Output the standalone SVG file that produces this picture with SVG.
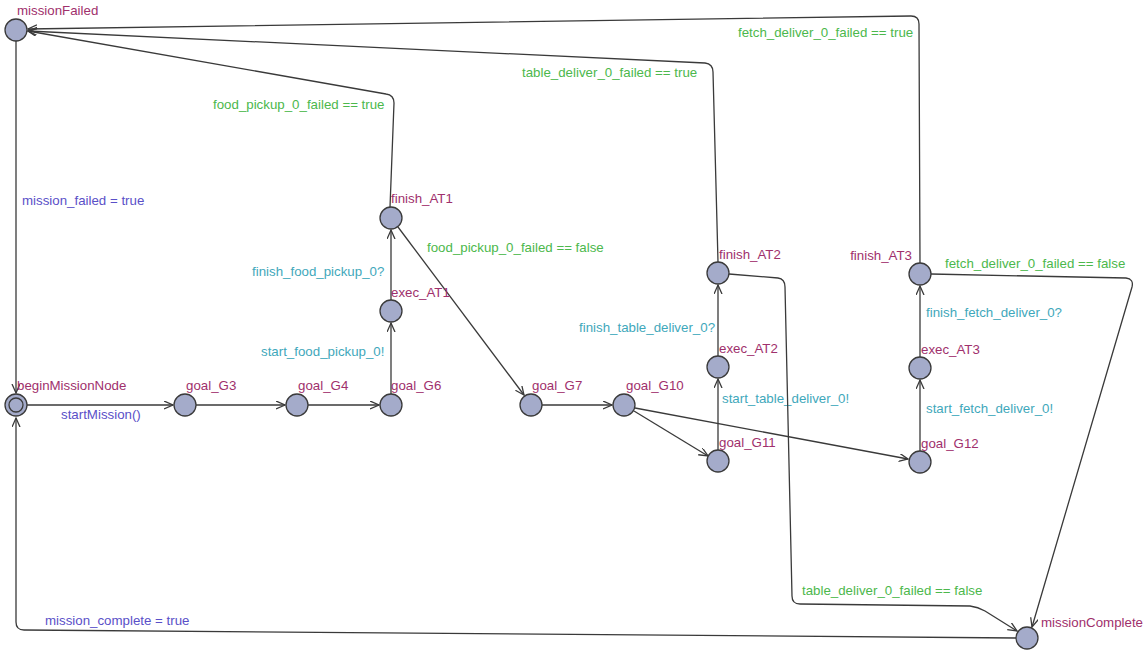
<svg xmlns="http://www.w3.org/2000/svg" width="1146" height="655" viewBox="0 0 1146 655">
<style>
.loc{fill:#a4abca;stroke:#3a3a3a;stroke-width:1.3}
.name{font-family:"Liberation Sans",Arial,sans-serif;font-size:13.3px;fill:#a0306c}
.e{fill:none;stroke:#3a3a3a;stroke-width:1.3;marker-end:url(#arr)}
.lbl{font-family:"Liberation Sans",Arial,sans-serif;font-size:13.3px}
.guard{fill:#4cb84c}
.sync{fill:#3fa8bb}
.upd{fill:#5a50c8}
</style>
<defs>
<marker id="arr" markerUnits="userSpaceOnUse" markerWidth="12" markerHeight="10" refX="9" refY="4" orient="auto">
<path d="M0,0 L9,4 L0,8" fill="none" stroke="#3a3a3a" stroke-width="1.3"/>
</marker>
</defs>
<rect width="1146" height="655" fill="#ffffff"/>
<g id="connectors">
<g id="e-failed-begin"><path class="e" d="M16,41 L16,393"/><text class="lbl upd" x="22" y="205">mission_failed = true</text></g>
<g id="e-begin-g3"><path class="e" d="M27,405 L173,405"/><text class="lbl upd" x="61" y="419">startMission()</text></g>
<g id="e-g3-g4"><path class="e" d="M196,405 L285,405"/></g>
<g id="e-g4-g6"><path class="e" d="M308,405 L379,405"/></g>
<g id="e-g6-exec1"><path class="e" d="M391,394 L391,323"/><text class="lbl sync" x="261" y="356">start_food_pickup_0!</text></g>
<g id="e-exec1-fin1"><path class="e" d="M391,300 L391,230"/><text class="lbl sync" x="252" y="276">finish_food_pickup_0?</text></g>
<g id="e-fin1-failed"><path class="e" d="M390,207 L394,103 Q394,95 386,94 L28,31"/><text class="lbl guard" x="213" y="109">food_pickup_0_failed == true</text></g>
<g id="e-fin1-g7"><path class="e" d="M398,227 L524,395"/><text class="lbl guard" x="427" y="252">food_pickup_0_failed == false</text></g>
<g id="e-g7-g10"><path class="e" d="M542,405 L612,405"/></g>
<g id="e-g10-g11"><path class="e" d="M634,411 L708,456"/></g>
<g id="e-g10-g12"><path class="e" d="M635,408 L908,459"/></g>
<g id="e-g11-exec2"><path class="e" d="M718,450 L718,379"/><text class="lbl sync" x="722" y="403">start_table_deliver_0!</text></g>
<g id="e-exec2-fin2"><path class="e" d="M718,356 L718,285"/><text class="lbl sync" x="579" y="332">finish_table_deliver_0?</text></g>
<g id="e-fin2-failed"><path class="e" d="M718,262 L713,72 Q713,64 705,63 L28,31"/><text class="lbl guard" x="522" y="77">table_deliver_0_failed == true</text></g>
<g id="e-fin2-complete"><path class="e" d="M729,274 L778,278 Q785,279 785,287 L792,596 Q792,604 800,604 L970,606 Q978,607 985,611 L1017,631"/><text class="lbl guard" x="802" y="595">table_deliver_0_failed == false</text></g>
<g id="e-g12-exec3"><path class="e" d="M920,451 L920,380"/><text class="lbl sync" x="926" y="413">start_fetch_deliver_0!</text></g>
<g id="e-exec3-fin3"><path class="e" d="M920,357 L920,286"/><text class="lbl sync" x="926" y="317">finish_fetch_deliver_0?</text></g>
<g id="e-fin3-failed"><path class="e" d="M920,263 L919,24 Q919,16 911,16 L28,29"/><text class="lbl guard" x="738" y="37">fetch_deliver_0_failed == true</text></g>
<g id="e-fin3-complete"><path class="e" d="M931,274 L1126,278 Q1134,279 1132,287 L1032,627"/><text class="lbl guard" x="945" y="268">fetch_deliver_0_failed == false</text></g>
<g id="e-complete-begin"><path class="e" d="M1016,638 L24,630 Q16,630 16,622 L16,418"/><text class="lbl upd" x="45" y="625">mission_complete = true</text></g>
</g>
<g id="missionFailed"><circle class="loc" cx="16" cy="30" r="11"/><text class="name" x="17" y="15">missionFailed</text></g>
<g id="beginMissionNode"><circle class="loc" cx="16" cy="405" r="11"/><circle class="loc" cx="16" cy="405" r="7"/><text class="name" x="17" y="390">beginMissionNode</text></g>
<g id="goal_G3"><circle class="loc" cx="185" cy="405" r="11"/><text class="name" x="186" y="390">goal_G3</text></g>
<g id="goal_G4"><circle class="loc" cx="297" cy="405" r="11"/><text class="name" x="298" y="390">goal_G4</text></g>
<g id="goal_G6"><circle class="loc" cx="391" cy="405" r="11"/><text class="name" x="391" y="390">goal_G6</text></g>
<g id="exec_AT1"><circle class="loc" cx="391" cy="311" r="11"/><text class="name" x="391" y="297">exec_AT1</text></g>
<g id="finish_AT1"><circle class="loc" cx="391" cy="218" r="11"/><text class="name" x="391" y="203">finish_AT1</text></g>
<g id="goal_G7"><circle class="loc" cx="531" cy="405" r="11"/><text class="name" x="532" y="390">goal_G7</text></g>
<g id="goal_G10"><circle class="loc" cx="624" cy="405" r="11"/><text class="name" x="626" y="390">goal_G10</text></g>
<g id="goal_G11"><circle class="loc" cx="718" cy="461" r="11"/><text class="name" x="719" y="447">goal_G11</text></g>
<g id="exec_AT2"><circle class="loc" cx="718" cy="367" r="11"/><text class="name" x="719" y="353">exec_AT2</text></g>
<g id="finish_AT2"><circle class="loc" cx="718" cy="273" r="11"/><text class="name" x="719" y="259">finish_AT2</text></g>
<g id="finish_AT3"><circle class="loc" cx="920" cy="274" r="11"/><text class="name" x="912" y="260" text-anchor="end">finish_AT3</text></g>
<g id="exec_AT3"><circle class="loc" cx="920" cy="368" r="11"/><text class="name" x="921" y="354">exec_AT3</text></g>
<g id="goal_G12"><circle class="loc" cx="920" cy="462" r="11"/><text class="name" x="921" y="448">goal_G12</text></g>
<g id="missionComplete"><circle class="loc" cx="1027" cy="638" r="11"/><text class="name" x="1041" y="627">missionComplete</text></g>
</svg>
